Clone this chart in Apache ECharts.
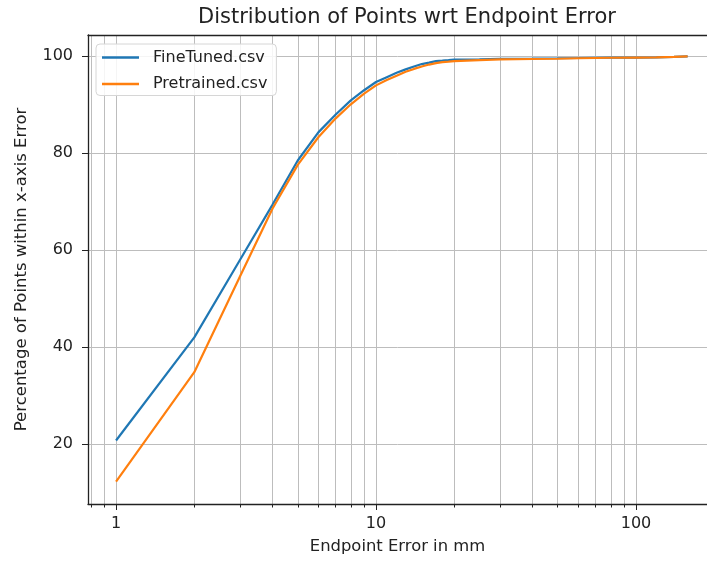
<!DOCTYPE html>
<html><head><meta charset="utf-8">
<script src="https://cdn.jsdelivr.net/npm/echarts@6/dist/echarts.min.js"></script>
<style>html,body{margin:0;padding:0;background:#fff}#c{width:707px;height:563px}</style>
</head><body><div id="c"></div>
<script>
const xValues    = [1, 2, 3, 4, 5, 6, 7, 8, 9, 10, 11, 12, 13, 14, 15, 16, 17, 18, 19, 20, 25, 30, 40, 50, 60, 70, 80, 100, 120, 140, 158];
const fineTuned  = [20.7, 42.0, 58.0, 69.4, 78.5, 84.3, 88.0, 90.9, 93.0, 94.7, 95.7, 96.6, 97.3, 97.9, 98.4, 98.7, 99.0, 99.1, 99.2, 99.3, 99.4, 99.5, 99.55, 99.6, 99.65, 99.7, 99.72, 99.75, 99.8, 99.9, 100];
const pretrained = [12.2, 34.8, 54.6, 68.6, 77.6, 83.3, 87.2, 90.1, 92.3, 94.0, 95.1, 96.0, 96.8, 97.4, 97.9, 98.3, 98.6, 98.8, 98.9, 99.0, 99.2, 99.35, 99.45, 99.5, 99.6, 99.65, 99.7, 99.75, 99.8, 99.9, 100];
const xMajorTicks = [1, 10, 100];
const xMinorTicks = [0.8, 0.9, 2, 3, 4, 5, 6, 7, 8, 9, 20, 30, 40, 50, 60, 70, 80, 90, 200];
const yTicks = [20, 40, 60, 80, 100];
const seriesNames = ['FineTuned.csv', 'Pretrained.csv'];
const colors = ['#1f77b4', '#ff7f0e'];

const font = 'DejaVu Sans';
const allXTicks = xMinorTicks.concat(xMajorTicks).sort((a, b) => a - b);
const xMin = 0.78, xMax = 187.6;

const chart = echarts.init(document.getElementById('c'), null, {renderer: 'canvas'});
const pair = (ys) => xValues.map((x, i) => [x, ys[i]]);

chart.setOption({
  animation: false,
  backgroundColor: '#fff',
  title: {
    text: 'Distribution of Points wrt Endpoint Error',
    left: 193, top: 2,
    textStyle: {fontFamily: font, fontSize: 21, fontWeight: 'normal', color: '#222'}
  },
  legend: {
    orient: 'vertical', left: 96, top: 44,
    data: seriesNames,
    icon: 'rect',
    itemWidth: 37, itemHeight: 2.5, itemGap: 9.5,
    padding: [5, 9, 3, 6],
    backgroundColor: 'rgba(255,255,255,0.85)',
    borderColor: '#d6d6d6', borderWidth: 1, borderRadius: 4,
    textStyle: {fontFamily: font, fontSize: 16, color: '#222', padding: [0, 0, 0, 9], lineHeight: 17}
  },
  grid: {left: 88, top: 35, right: 0, bottom: 59, containLabel: false},
  xAxis: [
    {
      type: 'log', logBase: 10, min: xMin, max: xMax, position: 'bottom',
      name: 'Endpoint Error in mm', nameLocation: 'middle', nameGap: 35,
      nameTextStyle: {fontFamily: font, fontSize: 16.4, color: '#222'},
      axisLine: {show: true, lineStyle: {color: '#222', width: 1.3}},
      axisTick: {show: true, inside: false, length: 3.5, lineStyle: {color: '#222', width: 1}, customValues: allXTicks},
      axisLabel: {show: true, customValues: xMajorTicks, margin: 12, fontFamily: font, fontSize: 16, color: '#222',
        formatter: (v) => String(Math.round(v))},
      splitLine: {show: true, lineStyle: {color: '#bdbdbd', width: 1}},
      minorTick: {show: false}, minorSplitLine: {show: false}
    },
    {
      type: 'log', logBase: 10, min: xMin, max: xMax, position: 'bottom',
      axisLine: {show: false},
      axisTick: {show: true, length: 6, lineStyle: {color: '#222', width: 1}, customValues: xMajorTicks},
      axisLabel: {show: false}, splitLine: {show: false}
    },
    {
      type: 'log', logBase: 10, min: xMin, max: xMax, position: 'top',
      axisLine: {show: true, lineStyle: {color: '#222', width: 1.3}},
      axisTick: {show: false}, axisLabel: {show: false}, splitLine: {show: false}
    }
  ],
  yAxis: {
    type: 'value', min: 7.6, max: 104.4,
    name: 'Percentage of Points within x-axis Error', nameLocation: 'middle', nameGap: 58,
    nameTextStyle: {fontFamily: font, fontSize: 16.5, color: '#222'},
    axisLine: {show: true, lineStyle: {color: '#222', width: 1.3}},
    axisTick: {show: true, length: 6, lineStyle: {color: '#222', width: 1}, customValues: yTicks},
    axisLabel: {customValues: yTicks, margin: 15, fontFamily: font, fontSize: 16, color: '#222'},
    splitLine: {show: true, lineStyle: {color: '#bdbdbd', width: 1}}
  },
  series: seriesNames.map((n, k) => ({
    name: n, type: 'line', xAxisIndex: 0,
    data: pair(k === 0 ? fineTuned : pretrained),
    symbol: 'none', showSymbol: false, smooth: false,
    lineStyle: {color: colors[k], width: 2.2},
    itemStyle: {color: colors[k]}
  }))
});
</script></body></html>
